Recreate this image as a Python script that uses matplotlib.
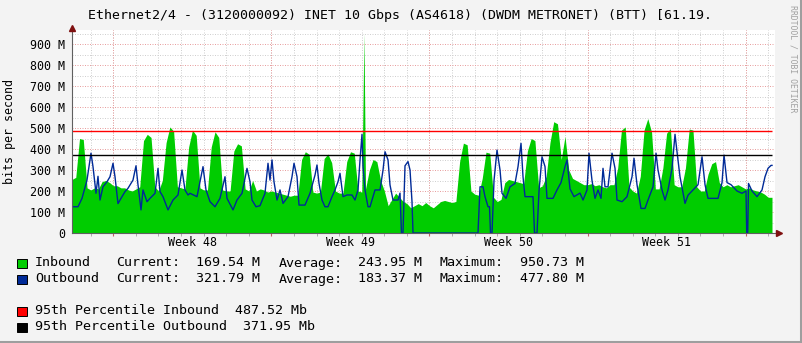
import numpy as np
import matplotlib
matplotlib.use("Agg")
import matplotlib.pyplot as plt
from matplotlib.patches import Rectangle
from matplotlib.lines import Line2D

W, H = 803, 343

# inbound traffic, Mbit/s, one value every 4 hours (6 per day), 31 days
inbound = [
    255, 265, 450, 445, 215, 205,
    215, 210, 245, 250, 240, 225,
    225, 215, 215, 205, 200, 210,
    220, 440, 470, 455, 220, 200,
    250, 430, 505, 485, 220, 215,
    210, 410, 490, 465, 215, 205,
    205, 410, 482, 455, 205, 200,
    200, 390, 425, 415, 210, 200,
    250, 200, 210, 205, 195, 200,
    195, 190, 185, 180, 175, 180,
    180, 350, 387, 375, 195, 190,
    195, 355, 376, 335, 200, 190,
    190, 340, 387, 380, 200, 195,
    210, 300, 350, 340, 250, 200,
    130, 160, 190, 170, 150, 140,
    120, 130, 140, 130, 145, 130,
    120, 135, 150, 155, 150, 145,
    150, 340, 428, 420, 200, 185,
    180, 260, 385, 380, 170, 150,
    160, 240, 255, 250, 245, 240,
    235, 390, 450, 440, 215, 225,
    270, 430, 530, 520, 350, 460,
    300, 260, 250, 240, 230, 230,
    235, 225, 230, 220, 215, 230,
    230, 310, 490, 505, 220, 200,
    190, 270, 490, 545, 480, 210,
    210, 310, 475, 498, 230, 220,
    220, 310, 495, 490, 220, 200,
    200, 280, 330, 340, 240, 220,
    230, 220, 225, 230, 220, 210,
    215, 205, 200, 195, 185, 170,
    170,
]
spike_day, spike_val = 12.93, 950.73

# outbound traffic, (day, Mbit/s)
out_days = [
    0.0, 0.266, 0.443, 0.664, 0.841, 0.930, 1.063, 1.151, 1.240, 1.373, 1.550, 1.683,
    1.816, 1.904, 2.037, 2.170, 2.347, 2.480, 2.701, 2.834, 2.923, 3.056, 3.144, 3.322,
    3.454, 3.676, 3.809, 3.897, 4.030, 4.252, 4.473, 4.694, 4.872, 5.004, 5.137, 5.226,
    5.536, 5.669, 5.802, 5.934, 6.112, 6.333, 6.554, 6.776, 6.864, 7.130, 7.307, 7.529,
    7.750, 7.883, 7.972, 8.149, 8.326, 8.547, 8.680, 8.769, 8.857, 8.946, 9.079, 9.212,
    9.345, 9.566, 9.743, 9.832, 9.965, 10.053, 10.319, 10.540, 10.762, 10.850, 10.939,
    11.072, 11.204, 11.337, 11.514, 11.647, 11.780, 11.869, 12.002, 12.179, 12.400,
    12.533, 12.666, 12.755, 12.843, 12.888, 12.976, 13.109, 13.198, 13.286, 13.419,
    13.641, 13.774, 13.862, 13.995, 14.083, 14.216, 14.438, 14.526, 14.592, 14.659,
    14.747, 14.880, 14.969, 15.057, 15.102, 17.980, 18.069, 18.202, 18.290, 18.423,
    18.490, 18.534, 18.601, 18.689, 18.822, 18.955, 19.044, 19.221, 19.398, 19.619,
    19.752, 19.885, 19.973, 20.062, 20.416, 20.483, 20.593, 20.682, 20.815, 20.948,
    21.036, 21.302, 21.479, 21.656, 21.833, 21.922, 22.055, 22.232, 22.498, 22.631,
    22.808, 22.896, 23.029, 23.162, 23.295, 23.428, 23.516, 23.605, 23.738, 23.915,
    24.048, 24.136, 24.358, 24.579, 24.801, 24.889, 25.022, 25.199, 25.376, 25.509,
    25.731, 25.864, 25.952, 26.129, 26.262, 26.395, 26.572, 26.705, 26.793, 26.926,
    27.148, 27.281, 27.502, 27.724, 27.901, 28.034, 28.167, 28.610, 28.787, 28.875,
    29.008, 29.185, 29.451, 29.672, 29.849, 29.880, 29.925, 29.960, 30.115, 30.337,
    30.558, 30.691, 30.824, 30.957, 31.0,
]
out_vals = [
    125, 125, 165, 252, 380, 316, 189, 270, 157, 220, 244, 268,
    332, 268, 140, 165, 197, 213, 252, 320, 229, 110, 205, 149,
    165, 189, 308, 197, 173, 110, 157, 181, 300, 205, 181, 189,
    173, 244, 316, 205, 149, 125, 165, 268, 165, 110, 157, 189,
    308, 244, 157, 125, 130, 189, 332, 252, 348, 244, 157, 205,
    141, 173, 268, 332, 268, 133, 133, 189, 276, 324, 236,
    157, 125, 125, 173, 205, 244, 284, 173, 181, 181,
    157, 205, 348, 470, 316, 205, 125, 125, 157, 205,
    205, 300, 387, 348, 229, 157, 157, 190, 0, 0,
    320, 340, 300, 150, 0, 0, 220, 220, 173, 125,
    125, 0, 0, 250, 395, 300, 189, 165, 220, 236,
    316, 427, 268, 173, 173, 0, 0, 200, 363, 316,
    165, 165, 205, 240, 316, 348, 210, 173, 190, 157,
    205, 380, 250, 165, 205, 165, 308, 220, 220, 380,
    308, 157, 149, 173, 268, 356, 230, 117, 117, 157,
    220, 380, 300, 205, 157, 205, 308, 470, 387, 268,
    141, 180, 205, 230, 363, 230, 165, 165, 240, 371,
    240, 230, 200, 189, 200, 0, 0, 236, 200, 173,
    205, 268, 308, 322, 322,
]

pct_in, pct_out = 487.52, 371.95
week_names = ["Week 48", "Week 49", "Week 50", "Week 51"]
first_week = 1.83
y_labels = ["0"] + [f"{v} M" for v in range(100, 1000, 100)]

title = "Ethernet2/4 - (3120000092) INET 10 Gbps (AS4618) (DWDM METRONET) (BTT) [61.19."
legend_rows = [
    ("Inbound", "169.54 M", "243.95 M", "950.73 M", "#00CC00"),
    ("Outbound", "321.79 M", "183.37 M", "477.80 M", "#002A97"),
]
pct_rows = [
    (f"95th Percentile Inbound  {pct_in:.2f} Mb", "#FF0000"),
    (f"95th Percentile Outbound  {pct_out:.2f} Mb", "#000000"),
]

mono = "DejaVu Sans Mono"
plt.rcParams["font.family"] = mono

fig = plt.figure(figsize=(W / 100, H / 100), dpi=100, facecolor="#F3F3F3")


def fx(x):
    return x / W


def fy(y):
    return 1 - y / H


# plot area: x 72..775 px, y 30..233 px; 700 px = 31 days, 0.21 px per M
ax = fig.add_axes([fx(72), fy(233), 703 / W, 203 / H])
ax.set_xlim(0, 31 * 703 / 700)
ax.set_ylim(0, 203 / 0.21)
ax.set_facecolor("white")
for s in ax.spines.values():
    s.set_visible(False)

# grid
dots = (0, (1, 1.5))
for k in range(31):
    ax.axvline(first_week - 1 + k, color="#D0D0D0", lw=0.72, ls=dots, zorder=1)
for v in range(50, 1000, 100):
    ax.axhline(v, color="#D0D0D0", lw=0.72, ls=dots, zorder=1)
for k in range(5):
    ax.axvline(first_week + 7 * k, color="#E8A0A0", lw=0.72, ls=dots, zorder=1.1)
for v in range(100, 1000, 100):
    ax.axhline(v, color="#E8A0A0", lw=0.72, ls=dots, zorder=1.1)

# data
in_t = np.arange(len(inbound)) / 6
pos = np.searchsorted(in_t, spike_day)
in_t = np.insert(in_t, pos, spike_day)
in_v = np.insert(np.array(inbound, float), pos, spike_val)
ax.fill_between(in_t, 0, in_v, color="#00CC00", lw=0, zorder=2)
ax.plot(out_days, out_vals, color="#002A97", lw=1.0, zorder=3)
ax.hlines(pct_in, 0, 31, color="#FF0000", lw=1.0, zorder=4)
ax.hlines(pct_out, 0, 31, color="#000000", lw=1.0, zorder=4)

# axes with arrows
ax.plot([0, 31.25], [0, 0], color="#606060", lw=0.8, clip_on=False, zorder=5)
ax.plot([0, 0], [0, 975], color="#606060", lw=0.8, clip_on=False, zorder=5)
ax.plot([31.3], [0], marker=">", ms=4, color="#7F1010", clip_on=False, zorder=6)
ax.plot([0], [978], marker="^", ms=4, color="#7F1010", clip_on=False, zorder=6)

ax.set_yticks(range(0, 1000, 100))
ax.set_yticklabels(y_labels, fontsize=8.4)
ax.tick_params(axis="y", length=0, pad=5)
ax.set_xticks([first_week + 7 * k for k in range(5)])
ax.set_xticklabels([])
ax.set_xticks([first_week - 1 + k for k in range(31)], minor=True)
ax.tick_params(axis="x", which="major", length=2, color="#C06060")
ax.tick_params(axis="x", which="minor", length=2, color="#A0A0A0")

for k, name in enumerate(week_names):
    ax.text(first_week + 3.5 + 7 * k, -9 / 203, name, transform=ax.get_xaxis_transform(),
            ha="center", va="center", fontsize=8.4)

# texts around
fig.text(fx(400), fy(15), title, ha="center", va="center", fontsize=9.5)
fig.text(fx(10), fy(132), "bits per second", rotation=90, ha="center", va="center", fontsize=8.4)
fig.text(fx(793), fy(59), "RRDTOOL / TOBI OETIKER", rotation=270, ha="center", va="center",
         fontsize=5.9, color="#A0A0A0")

# legend
leg_fs = 9.6
for i, (name, cur, avg, mx, col) in enumerate(legend_rows):
    y = 263 + 16 * i
    fig.patches.append(Rectangle((fx(17.5), fy(y + 4.5)), 9.5 / W, 9 / H, facecolor=col,
                                 edgecolor="black", lw=0.7, transform=fig.transFigure))
    for x, s in [(35, name), (116, "Current:"), (196, cur), (279, "Average:"),
                 (358, avg), (440, "Maximum:"), (520, mx)]:
        fig.text(fx(x), fy(y), s, ha="left", va="center", fontsize=leg_fs)
for i, (s, col) in enumerate(pct_rows):
    y = 311 + 16 * i
    fig.patches.append(Rectangle((fx(17.5), fy(y + 4.5)), 9.5 / W, 9 / H, facecolor=col,
                                 edgecolor="black", lw=0.7, transform=fig.transFigure))
    fig.text(fx(35), fy(y), s, ha="left", va="center", fontsize=leg_fs)

# frame
fig.lines.append(Line2D([fx(801.5), fx(801.5)], [0, 1], color="#9E9E9E", lw=2.2,
                        transform=fig.transFigure))
fig.lines.append(Line2D([0, 1], [fy(341.5), fy(341.5)], color="#9E9E9E", lw=2.2,
                        transform=fig.transFigure))

fig.savefig("out.png", dpi=100, facecolor=fig.get_facecolor())
